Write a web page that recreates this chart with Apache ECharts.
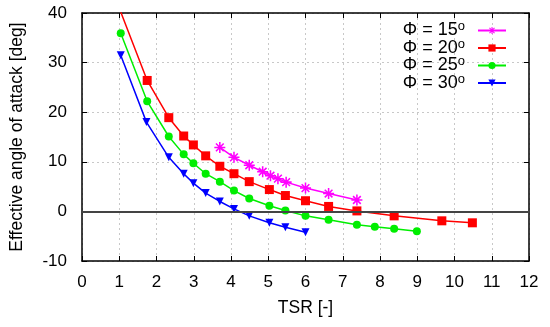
<!DOCTYPE html>
<html>
<head>
<meta charset="utf-8">
<script src="https://cdn.jsdelivr.net/npm/echarts@6/dist/echarts.min.js"></script>
<style>html,body{margin:0;padding:0;background:#fff}#c{width:550px;height:327px}</style>
</head>
<body>
<div id="c"></div>
<script>
// ---- data ----
const seriesNames = ['Φ = 15', 'Φ = 20', 'Φ = 25', 'Φ = 30'];
const tsr15 = [3.70, 4.08, 4.49, 4.85, 5.06, 5.26, 5.48, 6.00, 6.62, 7.38];
const aoa15 = [12.9, 10.9, 9.3, 8.0, 7.2, 6.6, 5.9, 4.7, 3.6, 2.3];
const tsr20 = [1.02, 1.75, 2.33, 2.73, 2.99, 3.32, 3.70, 4.08, 4.49, 5.03, 5.46, 6.00, 6.62, 7.38, 8.38, 9.66, 10.48];
const aoa20 = [40.6, 26.4, 18.9, 15.2, 13.4, 11.2, 9.1, 7.6, 6.0, 4.4, 3.2, 2.15, 1.0, 0.1, -0.9, -1.9, -2.3];
const tsr25 = [1.04, 1.75, 2.33, 2.73, 2.99, 3.32, 3.70, 4.08, 4.49, 5.03, 5.46, 6.00, 6.62, 7.38, 7.86, 8.38, 8.99];
const aoa25 = [35.9, 22.2, 15.1, 11.5, 9.7, 7.6, 6.0, 4.2, 2.6, 1.15, 0.2, -0.9, -1.7, -2.7, -3.1, -3.5, -4.0];
const tsr30 = [1.04, 1.73, 2.33, 2.73, 2.99, 3.32, 3.70, 4.08, 4.49, 5.03, 5.46, 6.00];
const aoa30 = [31.5, 18.0, 10.9, 7.6, 5.7, 3.7, 2.0, 0.5, -0.9, -2.3, -3.2, -4.2];
const xTicks = [0, 12, 1];
const yTicks = [-10, 40, 10];

const zip = (a, b) => a.map((v, i) => [v, b[i]]);
const FONT = 'Liberation Sans, Arial, sans-serif';
const asterisk = 'path://M0,4.3L10,4.3L10,5.7L0,5.7Z M4.3,0L5.7,0L5.7,10L4.3,10Z M1,2L2,1L9,8L8,9Z M8,1L9,2L2,9L1,8Z';
const colors = ['#ff00ff', '#ff0000', '#00ee00', '#0000ff'];

function mk(name, data, color, symbol, size, extra) {
  return Object.assign({
    name: name, type: 'line', data: data, clip: true,
    symbol: symbol, symbolSize: size, showSymbol: true,
    lineStyle: { color: color, width: 1.5 },
    itemStyle: { color: color, borderWidth: 0 },
    emphasis: { disabled: true }, animation: false
  }, extra || {});
}

const chart = echarts.init(document.getElementById('c'), null, { renderer: 'canvas' });
const axisCommon = {
  axisLine: { show: true, onZero: false, lineStyle: { color: '#000', width: 1.5 } },
  axisTick: { show: true, inside: true, length: 5, lineStyle: { color: '#000', width: 1 } }
};
chart.setOption({
  animation: false,
  grid: { left: 81, right: 21, top: 13, bottom: 66, containLabel: false },
  legend: {
    data: seriesNames,
    orient: 'vertical', right: 43, top: 20, align: 'right',
    itemWidth: 28, itemHeight: 9, itemGap: -2, padding: 0,
    formatter: n => n + '{sup|o}{sp|}',
    textStyle: {
      fontFamily: FONT, fontSize: 18, color: '#000', lineHeight: 18,
      rich: { sup: { fontSize: 13, fontFamily: FONT, padding: [0, 0, 8, 0] }, sp: { width: 8 } }
    }
  },
  xAxis: [{
    type: 'value', min: xTicks[0], max: xTicks[1], interval: xTicks[2],
    name: 'TSR [-]', nameLocation: 'middle', nameGap: 38,
    nameTextStyle: { fontFamily: FONT, fontSize: 17.5, color: '#000' },
    axisLabel: { fontFamily: FONT, fontSize: 17, color: '#000', margin: 13 },
    splitLine: { show: true, lineStyle: { type: [2, 3], color: '#c8c8c8', width: 1 } },
    ...axisCommon
  }, {
    type: 'value', position: 'top', min: xTicks[0], max: xTicks[1], interval: xTicks[2],
    axisLabel: { show: false }, splitLine: { show: false }, ...axisCommon
  }],
  yAxis: [{
    type: 'value', min: yTicks[0], max: yTicks[1], interval: yTicks[2],
    name: 'Effective angle of attack [deg]', nameLocation: 'middle', nameGap: 56,
    nameTextStyle: { fontFamily: FONT, fontSize: 17.5, color: '#000' },
    axisLabel: { fontFamily: FONT, fontSize: 17, color: '#000', margin: 15 },
    splitLine: { show: true, lineStyle: { type: [2, 3], color: '#c8c8c8', width: 1 } },
    ...axisCommon
  }, {
    type: 'value', position: 'right', min: yTicks[0], max: yTicks[1], interval: yTicks[2],
    axisLabel: { show: false }, splitLine: { show: false }, ...axisCommon
  }],
  series: [
    mk(seriesNames[0], zip(tsr15, aoa15), colors[0], asterisk, 11,
      { markLine: { silent: true, symbol: 'none', label: { show: false },
          lineStyle: { color: '#444', width: 2, type: 'solid' }, data: [{ yAxis: 0 }], animation: false } }),
    mk(seriesNames[1], zip(tsr20, aoa20), colors[1], 'rect', 9),
    mk(seriesNames[2], zip(tsr25, aoa25), colors[2], 'circle', 8),
    mk(seriesNames[3], zip(tsr30, aoa30), colors[3], 'triangle', 8, { symbolRotate: 180 })
  ]
});
</script>
</body>
</html>
